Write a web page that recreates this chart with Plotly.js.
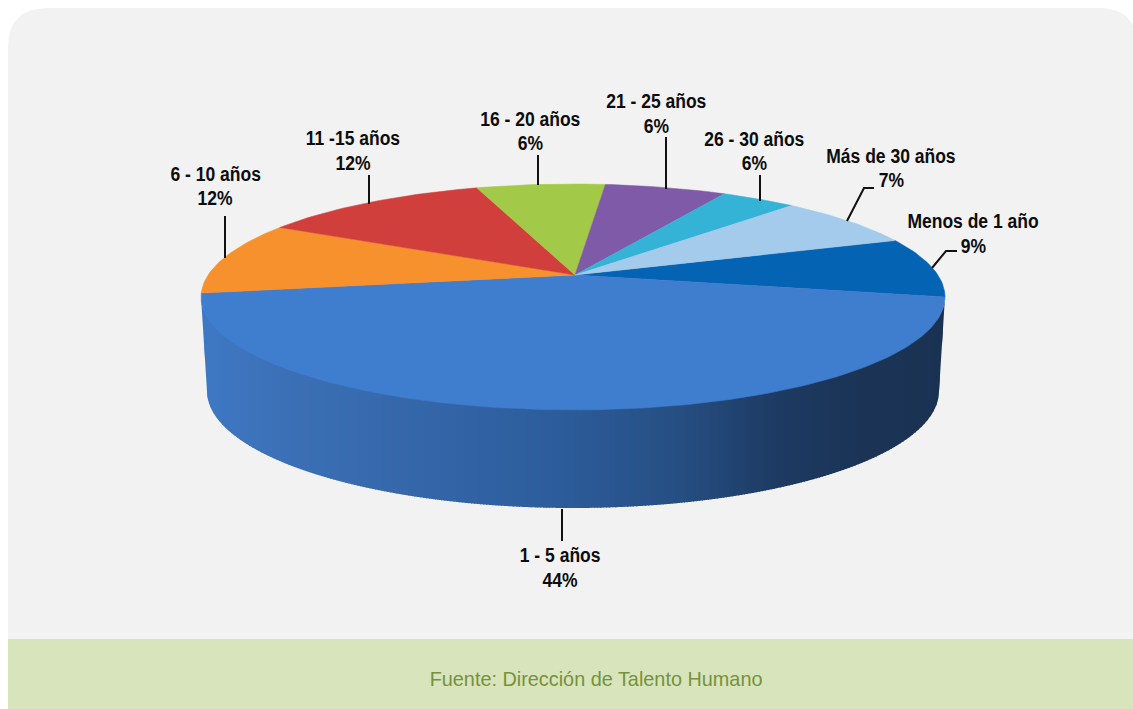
<!DOCTYPE html>
<html>
<head>
<meta charset="utf-8">
<script src="https://cdn.plot.ly/plotly-3.0.1.min.js"></script>
<style>html,body{margin:0;padding:0;background:#fff;overflow:hidden}#c{width:1133px;height:709px}</style>
</head>
<body>
<div id="c"></div>
<script>
// ---- data ----
const categories = ["Menos de 1 año","1 - 5 años","6 - 10 años","11 -15 años","16 - 20 años","21 - 25 años","26 - 30 años","Más de 30 años"];
const percentLabels = ["9%","44%","12%","12%","6%","6%","6%","7%"];
// swept angle of each slice as drawn (the 3D perspective of the original exaggerates the front slice)
const drawnDegrees = [30, 182, 36, 37, 20, 19, 12, 24];
const sliceColors = ["#0563b3","#3f7dce","#f6912d","#d13f3d","#a2c947","#7e5aa8","#35b3d6","#a4cbeb"];

// ---- layout of the drawing, in pixel units of the hidden axes ----
const topEllipse = {cx:573, cy:297, rx:372, ry:113};
const bottomEllipse = {cx:573, cy:391, rx:366, ry:117};
const apex = {x:575, y:275};
const sideStops = [[200,[62,120,196]],[300,[59,111,180]],[450,[50,100,166]],[560,[44,92,155]],[680,[38,78,130]],[780,[29,58,98]],[860,[27,52,86]],[945,[26,50,82]]];
const labelLines = [
  [973,221,973,246],[560,555,560,580],[215,174,215,198],[353,138,353,163],
  [530,119,530,143],[656,101,656,126],[754,139,754,163],[891,156,891,180]
];
const leaderX = [[932,946,957],[562,562],[225,225],[369,369],[538,538],[666,666],[760,760],[847,864,874]];
const leaderY = [[268,251,251],[509,541],[258,216],[204,175],[185,155],[189,137],[201,175],[221,188,188]];

const rad = d => d*Math.PI/180;
const pt = (e,t) => [e.cx+e.rx*Math.cos(rad(t)), e.cy-e.ry*Math.sin(rad(t))];

function sideColor(x){
  for(let i=0;i<sideStops.length-1;i++){
    const a=sideStops[i], b=sideStops[i+1];
    if(x<=b[0]){
      const f=Math.max(0,(x-a[0])/(b[0]-a[0]));
      const c=a[1].map((v,k)=>Math.round(v+(b[1][k]-v)*f));
      return `rgb(${c.join(',')})`;
    }
  }
  const l=sideStops[sideStops.length-1][1];
  return `rgb(${l.join(',')})`;
}
// front curve of an ellipse at a given x
function frontY(e,x){
  const u=Math.max(-1,Math.min(1,(x-e.cx)/e.rx));
  return e.cy+e.ry*Math.sqrt(1-u*u);
}
// lower outline of the rim: slanted ends joined by the bottom ellipse
function rimBottom(x){
  const tl=topEllipse.cx-topEllipse.rx, tr=topEllipse.cx+topEllipse.rx;
  const bl=bottomEllipse.cx-bottomEllipse.rx, br=bottomEllipse.cx+bottomEllipse.rx;
  if(x<bl) return topEllipse.cy+(x-tl)/(bl-tl)*(bottomEllipse.cy-topEllipse.cy);
  if(x>br) return topEllipse.cy+(tr-x)/(tr-br)*(bottomEllipse.cy-topEllipse.cy);
  return frontY(bottomEllipse,x);
}

const traces=[];
// rim: vertical bands, as in the original's stepped gradient; a polyline per band follows the curves
const bandPx=3;
const rimL=topEllipse.cx-topEllipse.rx, rimR=topEllipse.cx+topEllipse.rx;
for(let x=rimL;x<rimR;x+=bandPx){
  const x2=Math.min(rimR,x+bandPx+0.8);
  const col=sideColor(x+bandPx/2);
  const xs=[],ys=[],nSub=12;
  for(let k=0;k<=nSub;k++){const q=x+(x2-x)*k/nSub;xs.push(q);ys.push(frontY(topEllipse,q)-1);}
  for(let k=nSub;k>=0;k--){const q=x+(x2-x)*k/nSub;xs.push(q);ys.push(rimBottom(q));}
  xs.push(xs[0]);ys.push(ys[0]);
  traces.push({type:'scatter',mode:'lines',x:xs,y:ys,
    fill:'toself',fillcolor:col,line:{width:0,simplify:false},hoverinfo:'skip',showlegend:false});
}
// top face: slices run clockwise from the top of the first one
let start=30;
drawnDegrees.forEach((deg,i)=>{
  const xs=[apex.x],ys=[apex.y];
  const n=Math.max(8,Math.ceil(deg));
  for(let k=0;k<=n;k++){
    const p=pt(topEllipse,start-deg*k/n);
    xs.push(p[0]);ys.push(p[1]);
  }
  xs.push(apex.x);ys.push(apex.y);
  traces.push({type:'scatter',mode:'lines',x:xs,y:ys,fill:'toself',fillcolor:sliceColors[i],
    line:{color:sliceColors[i],width:0.5},name:categories[i],hoverinfo:'name',showlegend:false});
  start-=deg;
});
// leader lines
categories.forEach((c,i)=>{
  traces.push({type:'scatter',mode:'lines',x:leaderX[i],y:leaderY[i],line:{color:'#111',width:2},hoverinfo:'skip',showlegend:false});
});

const labelFont={family:'"Liberation Sans",Arial,sans-serif',size:20,color:'#0d0d0d'};
const annotations=[];
categories.forEach((c,i)=>{
  const p=labelLines[i];
  annotations.push({x:p[0],y:p[1],text:'<b>'+c+'</b>',showarrow:false,xanchor:'center',yanchor:'middle',font:labelFont});
  annotations.push({x:p[2],y:p[3],text:'<b>'+percentLabels[i]+'</b>',showarrow:false,xanchor:'center',yanchor:'middle',font:labelFont});
});
annotations.push({x:596,y:678,text:'Fuente: Dirección de Talento Humano',showarrow:false,xanchor:'center',yanchor:'middle',
  font:{family:'"Liberation Sans",Arial,sans-serif',size:21,color:'#76923c'}});

const layout={
  width:1133,height:709,margin:{l:0,r:0,t:0,b:0},
  paper_bgcolor:'#ffffff',plot_bgcolor:'rgba(0,0,0,0)',showlegend:false,
  xaxis:{range:[0,1133],visible:false,fixedrange:true},
  yaxis:{range:[709,0],visible:false,fixedrange:true},
  annotations,
  shapes:[
    {type:'path',layer:'below',xref:'x',yref:'y',line:{width:0},fillcolor:'#f2f2f2',
     path:'M8,48 Q8,8 48,8 L1098,8 Q1138,8 1138,48 L1138,645 L8,645 Z'},
    {type:'rect',layer:'below',xref:'x',yref:'y',x0:8,x1:1133,y0:639,y1:709,line:{width:0},fillcolor:'#d8e4bc'}
  ]
};
Plotly.newPlot('c',traces,layout,{displayModeBar:false,staticPlot:true}).then(gd=>{
  // the original lettering is condensed: squeeze the real text horizontally
  const narrowLabel=0.875, narrowFooter=0.945;
  gd.querySelectorAll('.annotation-text').forEach(el=>{
    const isFooter=el.textContent.indexOf('Fuente')===0;
    const len=el.getComputedTextLength();
    el.setAttribute('textLength',len*(isFooter?narrowFooter:narrowLabel));
    el.setAttribute('lengthAdjust','spacingAndGlyphs');
  });
});
</script>
</body>
</html>
